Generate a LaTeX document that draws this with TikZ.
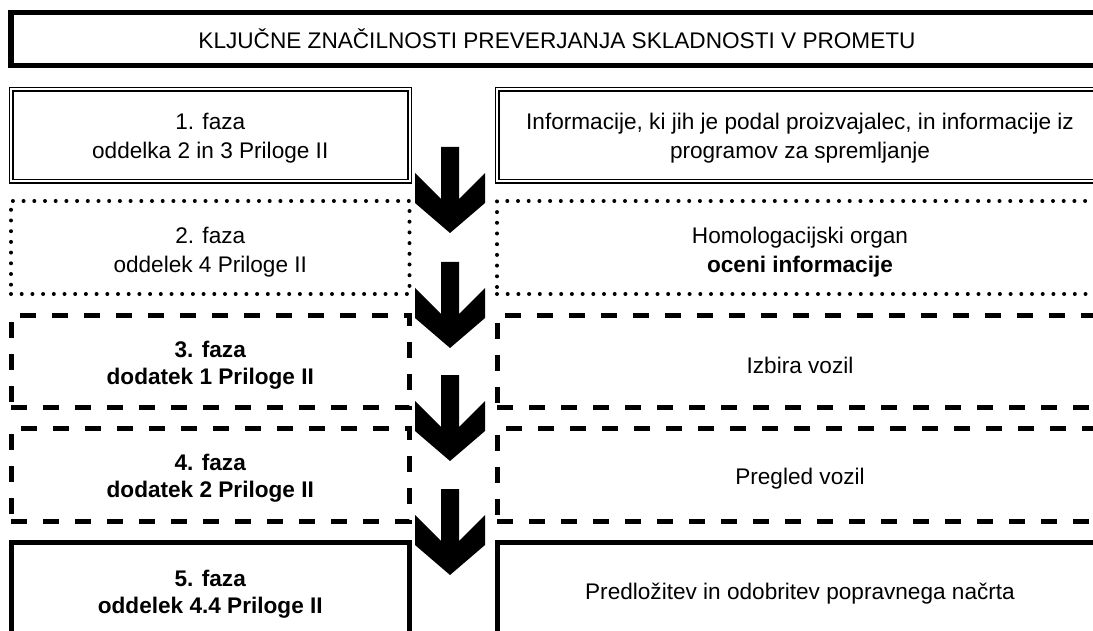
\documentclass[tikz,border=0pt]{standalone}
\usepackage{fontspec}
\setmainfont{Liberation Sans}
\usetikzlibrary{positioning}

\begin{document}
\begin{tikzpicture}[x=1pt,y=-1pt,
            font=\fontsize{22.6}{29}\selectfont,
            phase/.style={minimum width=398.5pt,minimum height=#1,inner sep=0pt},
            info/.style={minimum width=606pt,minimum height=#1,inner sep=0pt},
            boxtext/.style={align=center,inner sep=0pt},
            headbox/.style={draw,line width=5.5pt},
            dblbox/.style={draw,double,line width=1.5pt,double distance=2pt},
            dotbox/.style={draw,line width=4pt,dash pattern=on 0pt off 10.7pt,line cap=round},
            dashbox/.style={draw,line width=5pt,dash pattern=on 16pt off 16pt},
            solidbox/.style={draw,line width=5pt},
            bigarrow/.style={fill=black}
        ]
            \clip (0,0) rectangle (1093,631);

            \node[headbox,minimum width=1092pt,minimum height=53pt,inner sep=0pt] (title) at (557,39)
                {KLJUČNE ZNAČILNOSTI PREVERJANJA SKLADNOSTI V PROMETU};

            \node[phase=92pt,dblbox] (f1) at (210.25,135.5) {};
            \node[info=92pt,dblbox] (i1) at (800,135.5) {};
            \node[phase=93pt,dotbox] (f2) at (210.25,247.5) {};
            \node[info=93pt,dotbox] (i2) at (800,247.5) {};
            \node[phase=92pt,dashbox] (f3) at (210.25,361) {};
            \node[info=92pt,dashbox] (i3) at (800,361) {};
            \node[phase=93pt,dashbox] (f4) at (210.25,474.5) {};
            \node[info=93pt,dashbox] (i4) at (800,474.5) {};
            \node[phase=102pt,solidbox] (f5) at (210.25,593) {};
            \node[info=102pt,solidbox] (i5) at (800,593) {};

            % texts, a little below the box centres
            \node[boxtext] (f1t) at ([yshift=-3pt]f1.center) {1. faza\\oddelka 2 in 3 Priloge II};
            \node[boxtext] (i1t) at ([yshift=-3pt]i1.center) {Informacije, ki jih je podal proizvajalec, in informacije iz\\programov za spremljanje};
            \node[boxtext] (f2t) at ([yshift=-5pt]f2.center) {2. faza\\oddelek 4 Priloge II};
            \node[boxtext] (i2t) at ([yshift=-5pt]i2.center) {Homologacijski organ\\\textbf{oceni informacije}};
            \node[boxtext,font=\fontsize{22.6}{27}\bfseries] (f3t) at ([yshift=-4pt]f3.center) {3. faza\\dodatek 1 Priloge II};
            \node[boxtext] (i3t) at ([yshift=-4pt]i3.center) {Izbira vozil};
            \node[boxtext,font=\fontsize{22.6}{27}\bfseries] (f4t) at ([yshift=-4pt]f4.center) {4. faza\\dodatek 2 Priloge II};
            \node[boxtext] (i4t) at ([yshift=-4pt]i4.center) {Pregled vozil};
            \node[boxtext,font=\fontsize{22.6}{27}\bfseries] (f5t) at ([yshift=-1pt]f5.center) {5. faza\\oddelek 4.4 Priloge II};
            \node[boxtext] (i5t) at ([yshift=-1pt]i5.center) {Predložitev in odobritev popravnega načrta};

            % block arrows between the rows
            \foreach \ytop in {147,262,375,489}{
                \begin{scope}[shift={(450,\ytop)}]
                    \fill[bigarrow] (-9,0) -- (9,0) -- (9,52) -- (35,26) -- (35,56) -- (0,86)
                        -- (-35,56) -- (-35,26) -- (-9,52) -- cycle;
                \end{scope}
            }
        \end{tikzpicture}
\end{document}
